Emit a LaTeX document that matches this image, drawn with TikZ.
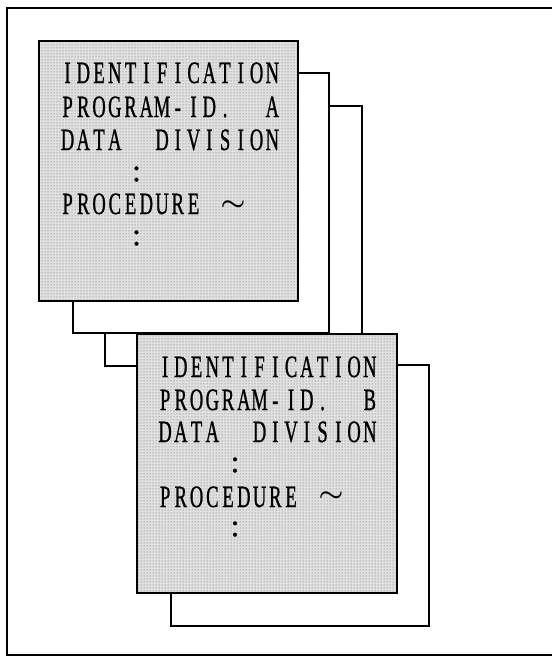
\documentclass[tikz,border=0pt]{standalone}
\usepackage{fontspec}
\usepackage{graphicx}
\setmainfont{Liberation Serif}
\newfontfamily\codeface[FakeBold=1.2]{Liberation Serif}
\usetikzlibrary{patterns,calc}

% fixed-pitch line of narrow serif capitals; '*' stands for an empty column
\newlength\cellw
\setlength\cellw{15.75pt}
\makeatletter
\def\monoline#1{\monoline@#1\relax}
\def\monoline@#1{%
  \ifx#1\relax\else
    \ifx#1*\hbox to\cellw{}\else
      \hbox to\cellw{\hss\scalebox{0.6}[1]{#1}\hss}\fi
    \expandafter\monoline@
  \fi}
\makeatother
\newcommand\codefont{\codeface\fontsize{31}{31}\selectfont}

\begin{document}
\begin{tikzpicture}[x=1pt,y=-1pt,
  frame/.style={line width=1.8pt},
  edge/.style={line width=1.3pt},
  shadowbox/.style={draw, edge, fill=white},
  codebox/.style={draw, edge, preaction={fill=black!12}, pattern=dots,
    pattern color=black!60, minimum width=259pt, minimum height=260pt,
    anchor=north west, inner sep=0pt, outer sep=0pt},
  codeline/.style={anchor=base west, inner sep=0pt, font=\codefont},
  dotsmark/.style={anchor=center, inner sep=0pt, font=\codefont},
  wave/.style={anchor=center, inner sep=0pt,
    font=\fontsize{31}{31}\selectfont\boldmath}]
\useasboundingbox (0,0) rectangle (552,657);

% outer frame
\draw[frame] (7,8) rectangle (562,655);

% source program A with two pages stacked behind it
\coordinate (A0) at (39,41);
\draw[shadowbox] ($(A0)+(66,65)$) rectangle ++(257,260);
\draw[shadowbox] ($(A0)+(34,32)$) rectangle ++(256,260);
\node[codebox] (A) at (A0) {};
\node[codeline] (A1) at ($(A0)+(20.5,42)$) {\monoline{IDENTIFICATION}};
\node[codeline] (A2) at ($(A0)+(20.5,76)$) {\monoline{PROGRAM-ID.**A}};
\node[codeline] (A3) at ($(A0)+(20.5,109)$) {\monoline{DATA**DIVISION}};
\node[dotsmark] (A4) at ($(A0)+(97.5,133)$) {:};
\node[codeline] (A5) at ($(A0)+(20.5,173)$) {\monoline{PROCEDURE}};
\node[wave] (A6) at ($(A0)+(194,165)$) {\scalebox{1.12}[1]{$\sim$}};
\node[dotsmark] (A7) at ($(A0)+(97.5,197)$) {:};

% source program B with one page stacked behind it
\coordinate (B0) at (137,334);
\draw[shadowbox] ($(B0)+(34,31)$) rectangle ++(258,261);
\node[codebox, minimum width=260pt, minimum height=259pt] (B) at (B0) {};
\node[codeline] (B1) at ($(B0)+(20,43)$) {\monoline{IDENTIFICATION}};
\node[codeline] (B2) at ($(B0)+(20,76)$) {\monoline{PROGRAM-ID.**B}};
\node[codeline] (B3) at ($(B0)+(20,108)$) {\monoline{DATA**DIVISION}};
\node[dotsmark] (B4) at ($(B0)+(98,131)$) {:};
\node[codeline] (B5) at ($(B0)+(20,173)$) {\monoline{PROCEDURE}};
\node[wave] (B6) at ($(B0)+(194,163)$) {\scalebox{1.12}[1]{$\sim$}};
\node[dotsmark] (B7) at ($(B0)+(98,195)$) {:};
\end{tikzpicture}
\end{document}
